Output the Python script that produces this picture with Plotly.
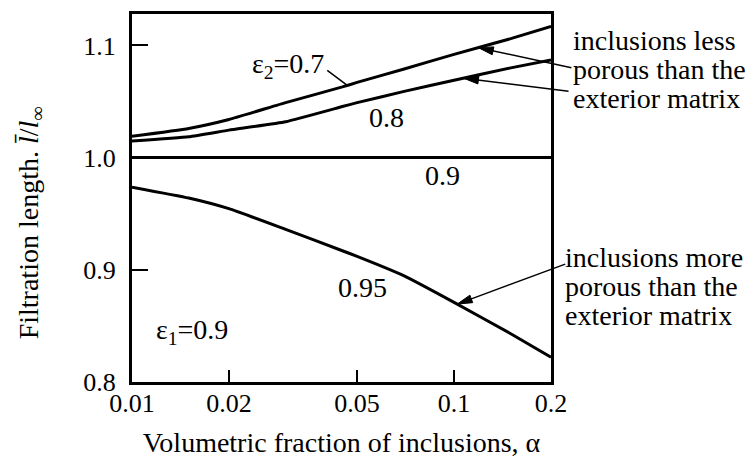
import numpy as np
import plotly.graph_objects as go

# ---- data ----
alpha = [0.01, 0.015, 0.02, 0.03, 0.045, 0.05, 0.07, 0.1, 0.15, 0.2]
eps2_07 = [1.019, 1.026, 1.034, 1.049, 1.063, 1.067, 1.079, 1.092, 1.106, 1.117]
eps2_08 = [1.0148, 1.0186, 1.0245, 1.032, 1.0455, 1.049, 1.059, 1.069, 1.080, 1.087]
eps2_09 = [1.0, 1.0, 1.0, 1.0, 1.0, 1.0, 1.0, 1.0, 1.0, 1.0]
eps2_095 = [0.9737, 0.964, 0.9545, 0.936, 0.917, 0.912, 0.8946, 0.871, 0.843, 0.822]

x_ticks = [0.01, 0.02, 0.05, 0.1, 0.2]
x_ticktext = ["0.01", "0.02", "0.05", "0.1", "0.2"]
y_ticks = [0.8, 0.9, 1.0, 1.1]
y_ticktext = ["0.8", "0.9", "1.0", "1.1"]

X_RANGE = [np.log10(0.01), np.log10(0.2)]
Y_RANGE = [0.8, 1.128]

FONT = "Liberation Serif"
fig = go.Figure()
for ys in (eps2_07, eps2_08, eps2_09, eps2_095):
    fig.add_trace(go.Scatter(x=alpha, y=ys, mode="lines",
                             line=dict(color="black", width=3, shape="spline", smoothing=0.4),
                             showlegend=False, hoverinfo="skip"))

la = np.log10(alpha)


def on_curve(a, ys):
    return float(np.interp(np.log10(a), la, ys))


def paper_x(a):
    return (np.log10(a) - X_RANGE[0]) / (X_RANGE[1] - X_RANGE[0])


def paper_y(y):
    return (y - Y_RANGE[0]) / (Y_RANGE[1] - Y_RANGE[0])


ann = []


def txt(a, y, s, size=28, yshift=3):
    ann.append(dict(x=np.log10(a), y=y, xref="x", yref="y", text=s, showarrow=False,
                    yshift=yshift, font=dict(family=FONT, size=size, color="black")))


# curve labels
txt(0.0306, 1.0824, "ε<sub>2</sub>=0.7", yshift=0)
txt(0.0617, 1.0328, "0.8")
txt(0.0918, 0.9814, "0.9")
txt(0.052, 0.8813, "0.95")
txt(0.0154, 0.845, "ε<sub>1</sub>=0.9", yshift=0)

shapes = []


def pointer(a, ys, dx, dy, head=True):
    """Line from a pixel offset (dx right, dy down) to a point on a curve."""
    xa, ya = paper_x(a), paper_y(on_curve(a, ys))
    common = dict(xref="paper", yref="paper", xsizemode="pixel", ysizemode="pixel",
                  xanchor=xa, yanchor=ya)
    shapes.append(dict(type="line", x0=0, y0=0, x1=dx, y1=-dy,
                       line=dict(color="black", width=1.5), **common))
    if head:
        L = np.hypot(dx, dy)
        ux, uy = -dx / L, dy / L          # unit vector tail -> head (y up)
        hl, hw = 15.0, 4.0
        bx, by = -ux * hl, -uy * hl
        nx, ny = -uy, ux
        path = (f"M0,0 L{bx + nx * hw:.2f},{by + ny * hw:.2f} "
                f"L{bx - nx * hw:.2f},{by - ny * hw:.2f} Z")
        shapes.append(dict(type="path", path=path, fillcolor="black",
                           line=dict(color="black", width=1), **common))


pointer(0.0466, eps2_07, -20, -15, head=False)
pointer(0.119, eps2_07, 93, 20)
pointer(0.107, eps2_08, 105, 13)
pointer(0.1023, eps2_095, 108, -40)


def side(xpx, ypx, s):
    ann.append(dict(x=(xpx - 132) / 419, y=(382 - ypx) / 371, xref="paper", yref="paper",
                    text=s, showarrow=False, xanchor="left", yanchor="middle",
                    font=dict(family=FONT, size=28, color="black")))


for i, s in enumerate(["inclusions less", "porous than the", "exterior matrix"]):
    side(571, 38 + 29 * i, s)
for i, s in enumerate(["inclusions more", "porous than the", "exterior matrix"]):
    side(563, 256 + 29.5 * i, s)

# y axis title
ann.append(dict(x=(30 - 132) / 419, y=(382 - 222) / 371, xref="paper", yref="paper",
                text="Filtration length. <i>l\u0304</i>/<i>l</i><sub>∞</sub>",
                textangle=-90, showarrow=False, xanchor="center", yanchor="middle",
                font=dict(family=FONT, size=28, color="black")))

fig.update_layout(
    width=753, height=466,
    margin=dict(l=132, r=202, t=11, b=84),
    paper_bgcolor="white", plot_bgcolor="white",
    font=dict(family=FONT, size=26, color="black"),
    annotations=ann, shapes=shapes,
    xaxis=dict(type="log", range=X_RANGE,
               tickvals=x_ticks, ticktext=x_ticktext, ticks="inside", ticklen=12,
               tickwidth=1.5, tickcolor="black", showline=True, mirror=True,
               linewidth=3, linecolor="black", showgrid=False, zeroline=False,
               ticklabelstandoff=-4,
               tickfont=dict(family=FONT, size=26),
               title=dict(text="Volumetric fraction of inclusions, α",
                          font=dict(family=FONT, size=28), standoff=16)),
    yaxis=dict(range=Y_RANGE, tickvals=y_ticks, ticktext=y_ticktext,
               ticks="inside", ticklen=16, tickwidth=1.5, tickcolor="black",
               showline=True, mirror=True, linewidth=3, linecolor="black",
               showgrid=False, zeroline=False, ticklabelstandoff=8,
               tickfont=dict(family=FONT, size=26)),
)

fig.write_html("out.html")
